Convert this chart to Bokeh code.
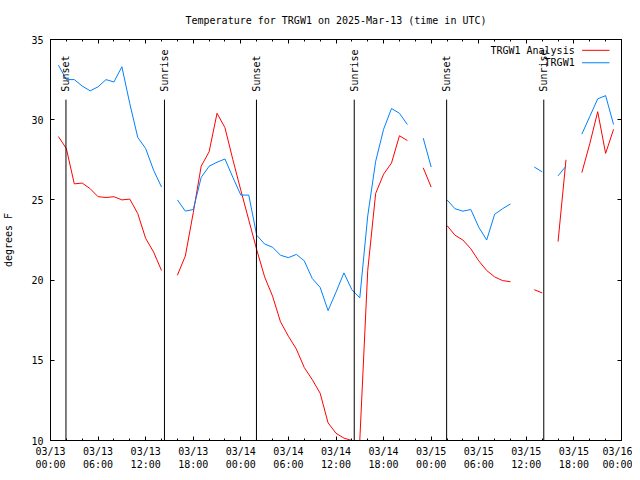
import math
from bokeh.plotting import figure
from bokeh.models import Range1d, FixedTicker, LinearAxis, CustomLabelingPolicy
from bokeh.core.properties import value
from bokeh.embed import file_html
from bokeh.resources import INLINE

nan = float("nan")

# hours after 2025-03-13 00:00 UTC
hours = list(range(72))

analysis = [
    nan, 28.95, 28.2, 26.0, 26.05, 25.7, 25.2, 25.15, 25.2, 25.0,
    25.05, 24.15, 22.6, 21.75, 20.6, nan, 20.3, 21.5, 24.2, 27.1,
    28.0, 30.4, 29.5, 27.5, 25.6, 23.75, 21.9, 20.2, 19.0, 17.4,
    16.5, 15.7, 14.55, 13.8, 12.95, 11.1, 10.45, 10.15, 10.0, 10.0,
    20.6, 25.4, 26.6, 27.3, 29.0, 28.7, nan, 27.0, 25.8, nan,
    23.4, 22.8, 22.5, 21.95, 21.2, 20.6, 20.2, 19.97, 19.9, nan,
    nan, 19.4, 19.2, nan, 22.4, 27.5, nan, 26.7, 28.5, 30.5,
    27.9, 29.4,
]

observed = [
    nan, 33.4, 32.5, 32.5, 32.1, 31.8, 32.05, 32.5, 32.35, 33.3,
    31.0, 28.9, 28.2, 26.85, 25.8, nan, 25.0, 24.3, 24.4, 26.4,
    27.1, 27.35, 27.55, 26.4, 25.3, 25.3, 22.8, 22.25, 22.05, 21.55,
    21.4, 21.6, 21.2, 20.1, 19.55, 18.1, 19.25, 20.45, 19.4, 18.9,
    24.0, 27.4, 29.4, 30.7, 30.4, 29.7, nan, 28.85, 27.05, nan,
    25.0, 24.45, 24.3, 24.4, 23.3, 22.5, 24.1, 24.45, 24.75, nan,
    nan, 27.05, 26.75, nan, 26.5, 27.1, nan, 29.1, 30.2, 31.3,
    31.5, 29.7,
]

sunset_hours = [1.95, 25.97, 49.95]
sunrise_hours = [14.37, 38.3, 62.2]

xtick_hours = [0, 6, 12, 18, 24, 30, 36, 42, 48, 54, 60, 66, 72]
xtick_labels = [
    "03/13\n00:00", "03/13\n06:00", "03/13\n12:00", "03/13\n18:00",
    "03/14\n00:00", "03/14\n06:00", "03/14\n12:00", "03/14\n18:00",
    "03/15\n00:00", "03/15\n06:00", "03/15\n12:00", "03/15\n18:00",
    "03/16\n00:00",
]
xminor_hours = list(range(0, 73, 2))
ytick_values = [10, 15, 20, 25, 30, 35]

title_text = "Temperature for TRGW1 on 2025-Mar-13 (time in UTC)"
series_names = ["TRGW1 Analysis", "TRGW1"]
series_colors = ["#ff0000", "#0080ff"]

FONT = "DejaVu Sans Mono"
FS = "10px"

X0, X1 = 0, 72
Y0, Y1 = 10, 35

p = figure(width=632, height=472, x_range=Range1d(X0, X1), y_range=Range1d(Y0, Y1),
           output_backend="svg", toolbar_location=None,
           min_border_left=47, min_border_right=11, min_border_top=39, min_border_bottom=32)
p.background_fill_color = "white"
p.border_fill_color = "white"
p.outline_line_color = "black"
p.outline_line_width = 1
p.xgrid.grid_line_color = None
p.ygrid.grid_line_color = None

# title
p.title.text = title_text
p.title.align = "center"
p.title.text_font = FONT
p.title.text_font_size = FS
p.title.text_font_style = "normal"
p.title.text_color = "black"
p.title.standoff = 20

no_labels = CustomLabelingPolicy(code="return new Set()")

def style_x(ax, labels=True):
    ax.ticker = FixedTicker(ticks=xtick_hours, minor_ticks=xminor_hours)
    ax.major_tick_in = 4
    ax.major_tick_out = 0
    ax.minor_tick_in = 2
    ax.minor_tick_out = 0
    ax.axis_line_color = "black"
    ax.major_tick_line_color = "black"
    ax.minor_tick_line_color = "black"
    ax.major_label_text_font = FONT
    ax.major_label_text_color = "black"
    if labels:
        ax.major_label_overrides = dict(zip(xtick_hours, xtick_labels))
        ax.major_label_text_font_size = FS
        ax.major_label_standoff = 5
    else:
        ax.major_label_policy = no_labels
        ax.major_label_text_font_size = "1px"
        ax.major_label_standoff = 0

def style_y(ax, labels=True):
    ax.ticker = FixedTicker(ticks=ytick_values, minor_ticks=[])
    ax.major_tick_in = 4
    ax.major_tick_out = 0
    ax.minor_tick_in = 0
    ax.minor_tick_out = 0
    ax.axis_line_color = "black"
    ax.major_tick_line_color = "black"
    ax.major_label_text_font = FONT
    ax.major_label_text_color = "black"
    if labels:
        ax.major_label_text_font_size = FS
        ax.major_label_standoff = 7
    else:
        ax.major_label_policy = no_labels
        ax.major_label_text_font_size = "1px"
        ax.major_label_standoff = 0

style_x(p.xaxis[0])
style_y(p.yaxis[0])
p.yaxis[0].axis_label = "degrees F"
p.yaxis[0].axis_label_text_font = FONT
p.yaxis[0].axis_label_text_font_size = FS
p.yaxis[0].axis_label_text_font_style = "normal"
p.yaxis[0].axis_label_text_color = "black"
p.yaxis[0].axis_label_standoff = 14

top = LinearAxis()
style_x(top, labels=False)
p.add_layout(top, "above")
right = LinearAxis()
style_y(right, labels=False)
p.add_layout(right, "right")

# data lines (analysis drawn first, observations on top)
p.line(hours, analysis, line_color=series_colors[0], line_width=1)
p.line(hours, observed, line_color=series_colors[1], line_width=1)

# sunset / sunrise markers
LINE_TOP = Y0 + 0.85 * (Y1 - Y0)
LABEL_Y = Y0 + 0.87 * (Y1 - Y0)
sun_x = sunset_hours + sunrise_hours
sun_lbl = ["Sunset"] * len(sunset_hours) + ["Sunrise"] * len(sunrise_hours)
p.segment(x0=sun_x, y0=[Y0] * len(sun_x), x1=sun_x, y1=[LINE_TOP] * len(sun_x),
          line_color="black", line_width=1)
p.text(x=sun_x, y=[LABEL_Y] * len(sun_x), text=sun_lbl, angle=math.pi / 2,
       text_align="left", text_baseline="middle", text_font=value(FONT),
       text_font_size=value(FS), text_color="black")

# legend (label left of sample line, top right)
LEG_TEXT_X = X0 + 0.918 * (X1 - X0)
LEG_L0 = X0 + 0.931 * (X1 - X0)
LEG_L1 = X0 + 0.979 * (X1 - X0)
LEG_Y = [Y1 - 0.027 * (Y1 - Y0), Y1 - 0.058 * (Y1 - Y0)]
p.text(x=[LEG_TEXT_X] * 2, y=LEG_Y, text=series_names, text_align="right",
       text_baseline="middle", text_font=value(FONT), text_font_size=value(FS),
       text_color="black")
p.segment(x0=[LEG_L0] * 2, y0=LEG_Y, x1=[LEG_L1] * 2, y1=LEG_Y,
          line_color=series_colors, line_width=1)

open("out.html", "w").write(file_html(p, INLINE))
